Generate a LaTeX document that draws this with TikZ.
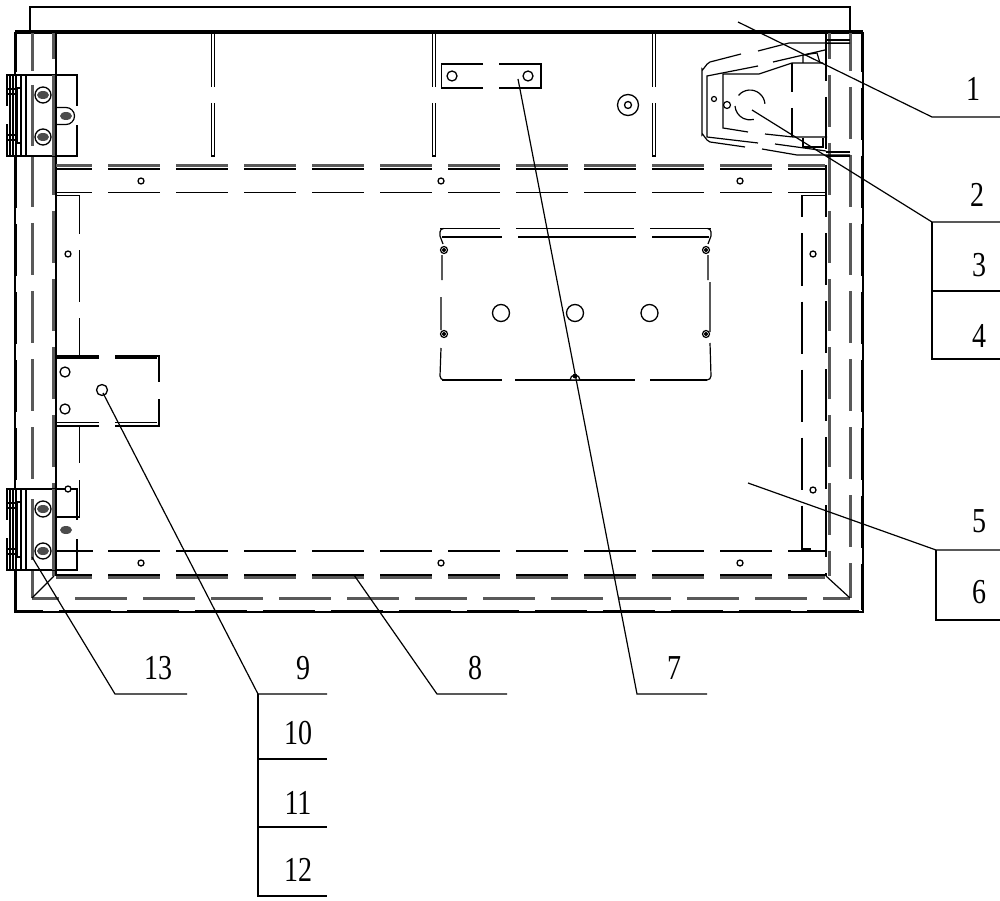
\documentclass[tikz,border=0pt]{standalone}
\usepackage{amsmath}
\usepackage{xcolor}
\usepackage{fontspec}
\setmainfont{Liberation Serif}
\definecolor{hiddengray}{gray}{0.35}
\tikzset{
  every picture/.style={x=1pt,y=-1pt},
  hidden/.style={dash pattern=on 52pt off 16pt},
  wall/.style={line width=2pt},
  grayedge/.style={line width=3pt,color=hiddengray},
  thinline/.style={line width=1.2pt},
  leader/.style={line width=1.2pt},
  hole/.style={line width=1.3pt,fill=white},
  callout/.style={font=\fontsize{35}{35}\selectfont,xscale=0.8,inner sep=0pt}
}
\begin{document}
\begin{tikzpicture}
\useasboundingbox (0,0) rectangle (1000,901);
% cover bar and outer frame
\draw[line width=1.7pt] (30,33) -- (30,7) -- (850,7) -- (850,33);
\draw[line width=2.6pt] (15,33) rectangle (863,612);
\draw[line width=1.8pt,dash pattern=on 52pt off 16pt,dash phase=14pt] (16.5,34) -- (16.5,610);
\draw[line width=1.8pt,dash pattern=on 52pt off 16pt,dash phase=14pt] (861.5,34) -- (861.5,610);
\draw[line width=1.8pt,dash pattern=on 52pt off 16pt,dash phase=25pt] (16,610.5) -- (862,610.5);
\draw[line width=1.2pt] (15,31) -- (863,31);
% hidden walls, left and right
\draw[grayedge,hidden,dash phase=14pt] (32,33) -- (32,598);
\draw[grayedge,hidden,dash phase=14pt] (850,33) -- (850,598);
\draw[grayedge,hidden,dash phase=25pt] (32,598) -- (850,598);
\draw[grayedge,hidden,dash phase=26pt] (53,33) -- (53,576);
\draw[thinline] (56,33) -- (56,576);
\draw[grayedge,hidden,dash phase=26pt] (829,33) -- (829,576);
\draw[wall,hidden,dash phase=4pt] (825.5,33) -- (825.5,576);
% top band
\draw[grayedge,hidden,dash phase=16pt] (56,165.5) -- (825,165.5);
\draw[wall,hidden,dash phase=16pt] (56,169) -- (825,169);
\draw[thinline,hidden,dash phase=16pt] (56,192.5) -- (825,192.5);
% bottom band
\draw[thinline,hidden,dash phase=16pt] (56,551) -- (825,551);
\draw[wall,hidden,dash phase=16pt] (56,575) -- (825,575);
\draw[grayedge,hidden,dash phase=16pt] (56,577.5) -- (825,577.5);
% corners
\draw[thinline] (54,576) -- (32,598);
\draw[thinline] (826,576) -- (850,598);
% ribs
\foreach \ribx in {213,434,654}{
  \draw[thinline] (\ribx-1.5,33) -- (\ribx-1.5,87) (\ribx+1.5,33) -- (\ribx+1.5,87);
  \draw[thinline] (\ribx-1.5,103) -- (\ribx-1.5,156) -- (\ribx+1.5,156) -- (\ribx+1.5,103);
}
% side strips
\draw[thinline] (57,195.5) -- (79.5,195.5) -- (79.5,234);
\draw[thinline] (79.5,250) -- (79.5,302) (79.5,318) -- (79.5,355);
\draw[thinline] (79.5,425) -- (79.5,463) (79.5,480) -- (79.5,517) -- (57,517);
\draw[thinline] (802,195.5) -- (825,195.5);
\draw[thinline,hidden,dash phase=30pt] (802,195.5) -- (802,549) -- (825,549);
\foreach \hx/\hy in {141/181,441/181,740/181,141/563,441/563,740/563,68/254,813/254,813/490}{
  \draw[hole] (\hx,\hy) circle (3);
}
% small plate
\draw[thinline] (483,64) -- (441.5,64) -- (441.5,88) -- (483,88);
\draw[thinline] (499,64) -- (541,64) -- (541,88) -- (499,88);
\draw[hole] (452,76) circle (5);
\draw[hole] (528,76) circle (5);
\draw[hole] (628,105) circle (10.5);
\draw[hole] (628,105) circle (3.5);
% middle plate
\draw[thinline,dash pattern=on 60pt off 16pt on 118pt off 16pt on 70pt off 0pt] (440,228.5) -- (711,228.5);
\draw[thinline,dash pattern=on 60pt off 16pt on 118pt off 16pt on 70pt off 0pt] (442,237) -- (709,237);
\draw[thinline] (440,232) arc[start angle=180,end angle=270,radius=3.5];
\draw[thinline] (711,232) arc[start angle=0,end angle=-90,radius=3.5];
\draw[line width=1.7pt,dash pattern=on 60pt off 13pt on 120pt off 15pt on 70pt off 0pt] (442,380) -- (707,380);
\draw[thinline] (440,376) arc[start angle=180,end angle=90,radius=4];
\draw[thinline] (711,376) arc[start angle=0,end angle=90,radius=4];
\draw[thinline] (440,232) -- (440,236) -- (443,244);
\draw[thinline] (442,255) -- (442,280) (441,297) -- (441,330) (441,348) -- (440,376);
\draw[thinline] (711,232) -- (711,236) -- (708,244);
\draw[thinline] (708,255) -- (708,280) (710,282) -- (710,332) (710,343) -- (711,376);
\foreach \sx/\sy in {444/250,444/334,706/250,706/334}{
  \draw[thinline,fill=white] (\sx,\sy) circle (3.5);
  \fill (\sx,\sy) circle (2);
}
\foreach \hx in {501,575,649.5}{
  \draw[hole] (\hx,313) circle (8.5);
}
\draw[thinline,fill=white] (570,380) arc[start angle=180,end angle=360,radius=5] -- cycle;
\fill (575,376) circle (2.4);
% left bracket
\draw[wall] (99,355.5) -- (57,355.5);
\draw[wall] (115,355.5) -- (159,355.5) -- (159,382);
\draw[thinline] (57,358) -- (99,358) (115,358) -- (157,358);
\draw[wall] (99,425.5) -- (57,425.5);
\draw[wall] (115,425.5) -- (159,425.5) -- (159,399);
\draw[thinline] (57,422.5) -- (99,422.5) (115,422.5) -- (157,422.5);
\foreach \hx/\hy/\hr in {65/372/5,65/409/5,102/390/5.5}{
  \draw[hole] (\hx,\hy) circle (\hr);
}
% hinges
\foreach \hingey in {75,489}{
  \begin{scope}[shift={(0,\hingey)}]
    \draw[thinline,fill=white] (7,0) rectangle (77,81);
    \draw[thinline] (10,0) -- (10,81) (13,0) -- (13,81) (21,0) -- (21,81) (26,0) -- (26,81);
    \draw[thinline] (17,13) rectangle (21.5,68);
    \draw[thinline] (7,14) -- (17,14) (7,19) -- (17,19) (7,60) -- (17,60) (7,65) -- (17,65);
    \draw[color=white,line width=2.5pt] (7,31) -- (7,49) (77,31) -- (77,50);
    \draw[grayedge] (32,10) -- (32,71);
    \draw[wall] (15.5,0) -- (15.5,81);
    \draw[grayedge] (53,0) -- (53,81);
    \draw[thinline] (56,0) -- (56,81);
    \foreach \sy in {20,62}{
      \draw[hole] (43,\sy) circle (8);
      \fill[black!70] (43,\sy) ellipse (6 and 4);
    }
    \fill[black!70] (66,41) ellipse (6 and 4);
  \end{scope}
}
\draw[thinline] (57,107.5) -- (66,107.5) arc[start angle=-90,end angle=90,radius=8.5] -- (57,124.5);
\draw[thinline] (57,551) -- (93,551);
\draw[thinline] (57,517) -- (79.5,517) -- (79.5,489);
\draw[hole] (68,489) circle (3);
% lock at the corner
\draw[thinline] (850,43) -- (789,43) -- (758,51) (741,54) -- (710,62) to[out=195,in=-90] (702,69) -- (702,135) to[out=90,in=170] (710,142) -- (745,147) (762,149) -- (797,155) -- (850,155);
\draw[thinline] (825,50) -- (773,62) (758,66) -- (707,76) -- (707,137) -- (758,143) (775,144) -- (826,151);
\draw[thinline] (823,63) -- (792,63) -- (759,74) -- (723,74) -- (723,128) -- (748,132) (765,134) -- (793,137) -- (827,137);
\draw[thinline] (792,63) -- (792,92) (792,108) -- (792,137);
\draw[thinline] (738.5,95.4) arc[start angle=220,end angle=355,radius=15];
\draw[thinline] (735,106) arc[start angle=176,end angle=75,radius=15];
\draw[thinline] (714,99) circle (2.5);
\draw[thinline] (727,105) circle (3.5);
\draw[thinline] (803,63) -- (803,55) -- (817,53) -- (820,63);
\draw[thinline] (803,138) -- (803,147) -- (823,147) -- (823,138);
\draw[thinline] (850,40) -- (826,40) (850,43.5) -- (826,43.5);
\draw[thinline] (850,152) -- (826,152) (850,156) -- (826,156);
% leaders
\coordinate (tip1) at (738,22); \coordinate (knee1) at (932,117); \coordinate (end1) at (1000,117);
\coordinate (tip2) at (752,110); \coordinate (knee2) at (932,222); \coordinate (end2) at (1000,222);
\coordinate (row3) at (932,291); \coordinate (row4) at (932,359);
\coordinate (tip5) at (748,483); \coordinate (knee5) at (936,550); \coordinate (end5) at (1000,550);
\coordinate (row6) at (936,620);
\coordinate (tip7) at (518,79); \coordinate (knee7) at (637,694); \coordinate (end7) at (707,694);
\coordinate (tip8) at (354,575); \coordinate (knee8) at (437,694); \coordinate (end8) at (507,694);
\coordinate (tip9) at (103,393); \coordinate (knee9) at (258,694); \coordinate (end9) at (327,694);
\coordinate (row10) at (258,759); \coordinate (row11) at (258,827); \coordinate (row12) at (258,896);
\coordinate (tip13) at (32,557); \coordinate (knee13) at (115,694); \coordinate (end13) at (187,694);
\draw[leader] (tip1) -- (knee1) -- (end1);
\draw[leader] (tip2) -- (knee2) -- (end2);
\draw[leader] (knee2) -- (row4) -- (1000,359);
\draw[leader] (row3) -- (1000,291);
\draw[leader] (tip5) -- (knee5) -- (end5);
\draw[leader] (knee5) -- (row6) -- (1000,620);
\draw[leader] (tip7) -- (knee7) -- (end7);
\draw[leader] (tip8) -- (knee8) -- (end8);
\draw[leader] (tip9) -- (knee9) -- (end9);
\draw[leader] (knee9) -- (row12) -- (327,896);
\draw[leader] (row10) -- (327,759);
\draw[leader] (row11) -- (327,827);
\draw[leader] (tip13) -- (knee13) -- (end13);
% numbers
\node[callout] (num1) at (973,89) {1};
\node[callout] (num2) at (977,195) {2};
\node[callout] (num3) at (979,265) {3};
\node[callout] (num4) at (979,336) {4};
\node[callout] (num5) at (979,521) {5};
\node[callout] (num6) at (979,592) {6};
\node[callout] (num7) at (674,668) {7};
\node[callout] (num8) at (475,668) {8};
\node[callout] (num9) at (303,668) {9};
\node[callout] (num10) at (298,733) {10};
\node[callout] (num11) at (298,803) {11};
\node[callout] (num12) at (298,870) {12};
\node[callout] (num13) at (158,668) {13};
\end{tikzpicture}
\end{document}
